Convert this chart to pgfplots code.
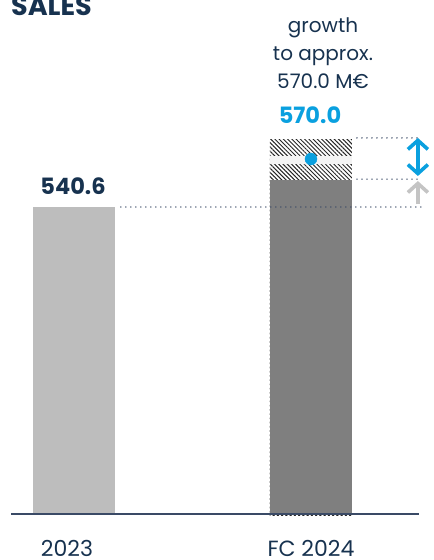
\documentclass[border=0pt]{standalone}
\usepackage{pgfplots}
\pgfplotsset{compat=1.18}
\usepackage{fontspec}
\setmainfont{Poppins}
\usetikzlibrary{arrows.meta,patterns.meta}
\definecolor{navy}{HTML}{17324F}
\definecolor{lightbar}{HTML}{BDBDBD}
\definecolor{darkbar}{HTML}{7F7F7F}
\definecolor{band}{HTML}{F4F4F4}
\definecolor{accent}{HTML}{0AA0DF}
\definecolor{dotline}{HTML}{3A4A66}
\definecolor{arrowgray}{HTML}{C4C4C4}
\begin{document}
\begin{tikzpicture}
\begin{axis}[
  at={(11pt,45pt)}, anchor=south west,
  scale only axis,
  width=423pt, height=515pt,
  xmin=-0.2658, xmax=1.519,
  ymin=351.96, ymax=667.39,
  axis line style={draw=none},
  ytick=\empty,
  xtick={-0.0295,1},
  xticklabels={2023, FC 2024},
  major tick length=0pt,
  x tick label style={font=\fontsize{22}{26}\selectfont, text=navy, anchor=base, yshift=-41pt},
  ybar, bar width=82pt, bar shift=0pt,
]
% bars: 2023 actual, 2024 forecast range
\addplot[draw=none, fill=lightbar] coordinates {(0,540.6)};
\addplot[draw=none, preaction={fill=white}, pattern={Lines[angle=-45,distance=3pt,line width=1pt]}, pattern color=black!85] coordinates {(1,582.0)};
\addplot[draw=none, fill=band] coordinates {(1,571.8)};
\addplot[draw=none, preaction={fill=white}, pattern={Lines[angle=-45,distance=3pt,line width=1pt]}, pattern color=black!85] coordinates {(1,566.9)};
\addplot[draw=none, fill=darkbar] coordinates {(1,557.1)};
% baseline
\addplot[sharp plot, draw=dotline, line width=2.2pt] coordinates {(-0.2658,352.57) (1.4557,352.57)};
% dotted guides
\addplot[sharp plot, draw=dotline, line width=1.6pt, line cap=round, dash pattern=on 0pt off 5pt] coordinates {(0.198,540.6) (1.468,540.6)};
\addplot[sharp plot, draw=dotline, line width=1.6pt, line cap=round, dash pattern=on 0pt off 5pt] coordinates {(1.194,582.9) (1.468,582.9)};
\addplot[sharp plot, draw=dotline, line width=1.6pt, line cap=round, dash pattern=on 0pt off 5pt] coordinates {(1.194,557.7) (1.468,557.7)};
% arrows
\addplot[sharp plot, draw=arrowgray, line width=3.6pt, -{Straight Barb[width=20pt,length=9pt]}] coordinates {(1.451,542.4) (1.451,556.5)};
\addplot[sharp plot, draw=accent, line width=3.6pt, {Straight Barb[width=20pt,length=9pt]}-{Straight Barb[width=20pt,length=9pt]}] coordinates {(1.451,559.6) (1.451,582.9)};
% forecast point
\addplot[only marks, mark=*, mark size=6pt, color=accent] coordinates {(1,570.0)};
\end{axis}
\node[anchor=base west, text=navy, font=\fontsize{27}{30}\selectfont\bfseries, inner sep=0pt] at (11pt,544pt) {SALES};
\node[anchor=base, text=navy, font=\fontsize{22.5}{26}\selectfont\bfseries, inner sep=0pt] at (73pt,365pt) {540.6};
\node[anchor=base, text=accent, font=\fontsize{22.5}{26}\selectfont\bfseries, inner sep=0pt] at (310pt,436pt) {570.0};
\node[anchor=base, text=navy, font=\fontsize{20}{24}\selectfont, inner sep=0pt] at (323pt,527pt) {growth};
\node[anchor=base, text=navy, font=\fontsize{20}{24}\selectfont, inner sep=0pt] at (323pt,499pt) {to approx.};
\node[anchor=base, text=navy, font=\fontsize{20}{24}\selectfont, inner sep=0pt] at (323pt,471pt) {570.0 M€};
\pgfresetboundingbox
\path[use as bounding box] (0pt,0pt) rectangle (434pt,560pt);
\end{tikzpicture}
\end{document}
